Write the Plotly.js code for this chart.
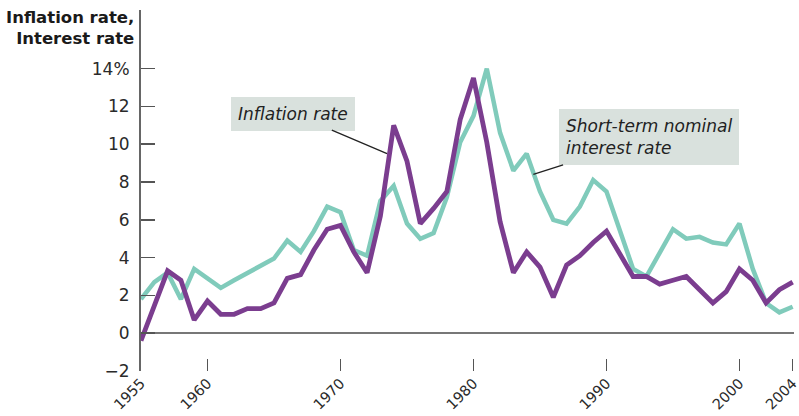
<!DOCTYPE html>
<html>
<head>
<meta charset="utf-8">
<script src="https://cdn.plot.ly/plotly-3.0.1.min.js"></script>
<style>html,body{margin:0;padding:0;background:#fff;}#chart{width:799px;height:416px;}</style>
</head>
<body>
<div id="chart"></div>
<script>
const years = [1955,1956,1957,1958,1959,1960,1961,1962,1963,1964,1965,1966,1967,1968,1969,1970,1971,1972,1973,1974,1975,1976,1977,1978,1979,1980,1981,1982,1983,1984,1985,1986,1987,1988,1989,1990,1991,1992,1993,1994,1995,1996,1997,1998,1999,2000,2001,2002,2003,2004];
const inflationRate = [-0.4,1.5,3.3,2.8,0.7,1.7,1.0,1.0,1.3,1.3,1.6,2.9,3.1,4.4,5.5,5.7,4.3,3.2,6.2,11.0,9.1,5.8,6.6,7.5,11.3,13.5,10.1,5.9,3.2,4.3,3.5,1.9,3.6,4.1,4.8,5.4,4.2,3.0,3.0,2.6,2.8,3.0,2.3,1.6,2.2,3.4,2.8,1.6,2.3,2.7];
const interestRate = [1.8,2.7,3.2,1.8,3.4,2.9,2.4,2.8,3.2,3.6,3.95,4.9,4.3,5.4,6.7,6.4,4.4,4.1,7.0,7.8,5.8,5.0,5.3,7.2,10.1,11.5,14.0,10.6,8.6,9.5,7.5,6.0,5.8,6.7,8.1,7.5,5.4,3.4,3.0,4.3,5.5,5.0,5.1,4.8,4.7,5.8,3.4,1.6,1.1,1.4];
const xTickVals = [1955,1960,1970,1980,1990,2000,2004];
const xTickText = ['1955','1960','1970','1980','1990','2000','2004'];
const yTickVals = [-2,0,2,4,6,8,10,12,14];
const yTickText = ['\u22122','0','2','4','6','8','10','12','14%'];

const font = '"DejaVu Sans", "Noto Sans", sans-serif';

const traces = [
  {x: years, y: interestRate, type: 'scatter', mode: 'lines', name: 'Short-term nominal interest rate',
   line: {color: '#80cbbb', width: 4.5}, hoverinfo: 'skip'},
  {x: years, y: inflationRate, type: 'scatter', mode: 'lines', name: 'Inflation rate',
   line: {color: '#7b3d8f', width: 4.8}, hoverinfo: 'skip'}
];

const layout = {
  width: 799, height: 416,
  margin: {l: 141, r: 5, t: 10, b: 45},
  paper_bgcolor: '#ffffff', plot_bgcolor: '#ffffff',
  showlegend: false,
  font: {family: font, color: '#2a2a2a', size: 16},
  xaxis: {
    range: [1955, 2004.1], showgrid: false, zeroline: false, showline: false,
    tickmode: 'array', tickvals: xTickVals, ticktext: xTickText,
    ticks: 'inside', ticklen: 12, tickwidth: 1.5, tickcolor: '#555',
    tickangle: -45, ticklabeloverflow: 'allow', ticklabelstandoff: 0,
    tickfont: {family: font, size: 14.5, color: '#2a2a2a'}
  },
  yaxis: {
    range: [-2, 17.1], showgrid: false,
    zeroline: true, zerolinecolor: '#777', zerolinewidth: 2,
    showline: true, linecolor: '#666', linewidth: 2,
    tickmode: 'array', tickvals: yTickVals, ticktext: yTickText,
    ticks: 'inside', ticklen: 14, tickwidth: 1.5, tickcolor: '#555',
    ticklabelstandoff: 6,
    tickfont: {family: font, size: 17, color: '#2a2a2a'}
  },
  annotations: [
    {xref: 'paper', yref: 'paper', x: -0.008, y: 1.012, xanchor: 'right', yanchor: 'top',
     align: 'right', showarrow: false,
     text: '<b>Inflation rate,</b><br><b>Interest rate</b>',
     font: {family: font, size: 16.5, color: '#1a1a1a'}},
    {x: 1973.5, y: 9.5, xref: 'x', yref: 'y', ax: -94, ay: -40,
     text: '<i>Inflation rate</i>', showarrow: true, arrowhead: 0, arrowwidth: 1.3, arrowcolor: '#222',
     bgcolor: '#d9e1dd', bordercolor: '#d9e1dd', borderwidth: 1, borderpad: 6,
     font: {family: font, size: 17, color: '#222'}},
    {x: 1984.5, y: 8.4, xref: 'x', yref: 'y', ax: 116, ay: -37,
     text: '<i>Short-term nominal</i><br><i>interest rate</i>', align: 'left',
     showarrow: true, arrowhead: 0, arrowwidth: 1.3, arrowcolor: '#222',
     bgcolor: '#d9e1dd', bordercolor: '#d9e1dd', borderwidth: 1, borderpad: 6,
     font: {family: font, size: 17, color: '#222'}}
  ]
};

Plotly.newPlot('chart', traces, layout, {displayModeBar: false, staticPlot: true});
</script>
</body>
</html>
